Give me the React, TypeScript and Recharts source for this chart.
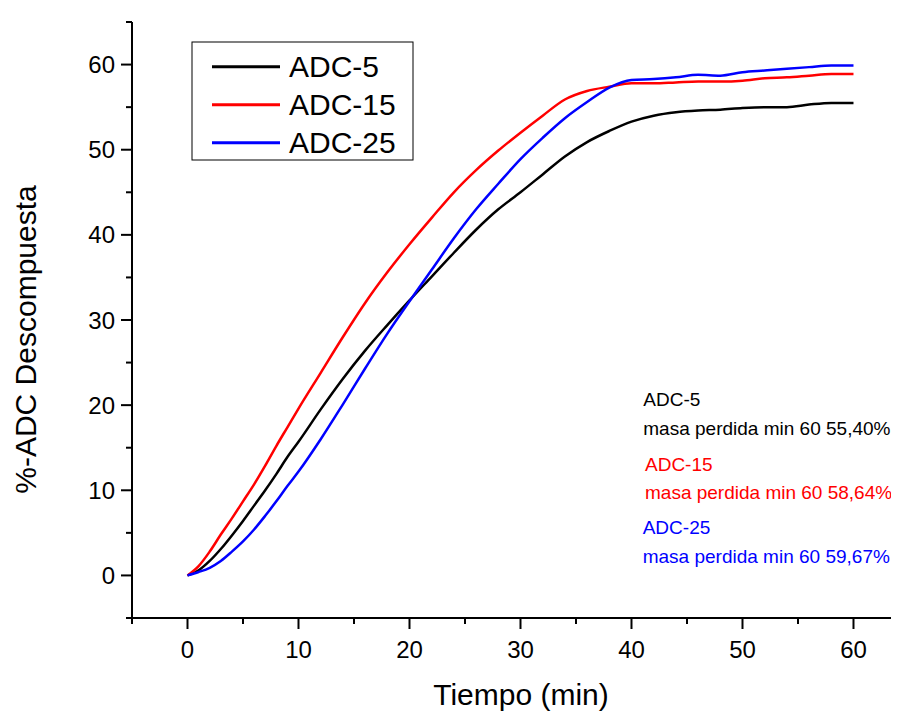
import React from 'react';
import { LineChart, Line, XAxis, YAxis } from 'recharts';

const times = [0, 1, 2, 3, 4, 5, 6, 7, 8, 9, 10, 12, 14, 16, 18, 20, 22, 24, 26, 28, 30, 32, 34, 36, 38, 40, 42, 44, 46, 48, 50, 52, 54, 56, 58, 60];
const adc5 = [0, 0.6, 1.7, 3.1, 4.7, 6.4, 8.2, 10.0, 11.9, 13.9, 15.7, 19.5, 23.1, 26.4, 29.4, 32.3, 35.1, 37.9, 40.6, 43.0, 45.0, 47.1, 49.2, 50.9, 52.2, 53.3, 54.0, 54.4, 54.6, 54.7, 54.9, 55.0, 55.0, 55.3, 55.5, 55.5];
const adc15 = [0, 1.1, 2.8, 4.8, 6.7, 8.7, 10.7, 12.9, 15.2, 17.4, 19.6, 23.8, 28.0, 32.0, 35.6, 38.9, 42.0, 45.0, 47.6, 49.9, 52.0, 54.0, 55.9, 56.9, 57.4, 57.8, 57.8, 57.9, 58.0, 58.0, 58.1, 58.4, 58.5, 58.7, 58.9, 58.9];
const adc25 = [0, 0.4, 0.9, 1.7, 2.8, 4.0, 5.4, 7.0, 8.7, 10.5, 12.2, 16.0, 20.1, 24.3, 28.4, 32.2, 35.9, 39.6, 43.0, 46.0, 48.9, 51.4, 53.7, 55.6, 57.3, 58.2, 58.3, 58.5, 58.8, 58.7, 59.1, 59.3, 59.5, 59.7, 59.9, 59.9];

const xTicks = [-5, 0, 5, 10, 15, 20, 25, 30, 35, 40, 45, 50, 55, 60];
const yTicks = [-5, 0, 5, 10, 15, 20, 25, 30, 35, 40, 45, 50, 55, 60, 65];

const seriesNames = ['ADC-5', 'ADC-15', 'ADC-25'];
const seriesColors = ['#000000', '#FF0000', '#0000FF'];
const notes = [
  'masa perdida min 60 55,40%',
  'masa perdida min 60 58,64%',
  'masa perdida min 60 59,67%',
];

const rows = times.map((t, i) => ({ t, adc5: adc5[i], adc15: adc15[i], adc25: adc25[i] }));

const FONT = 'Liberation Sans, Arial, sans-serif';

const BottomTick = (p: any) => {
  const v = p.payload.value;
  const major = v % 10 === 0;
  return (
    <g>
      <line x1={p.x} x2={p.x} y1={p.y} y2={p.y + (major ? 11 : 6)} stroke="#000" strokeWidth={2} />
      {major && (
        <text x={p.x} y={p.y + 40} textAnchor="middle" fontSize={24} fill="#000" fontFamily={FONT}>
          {v}
        </text>
      )}
    </g>
  );
};

const TopTick = (p: any) => {
  const v = p.payload.value;
  const major = v % 10 === 0;
  return <line x1={p.x} x2={p.x} y1={p.y} y2={p.y - (major ? 11 : 6)} stroke="#000" strokeWidth={2} />;
};

const LeftTick = (p: any) => {
  const v = p.payload.value;
  const major = v % 10 === 0;
  return (
    <g>
      <line x1={p.x} x2={p.x - (major ? 11 : 6)} y1={p.y} y2={p.y} stroke="#000" strokeWidth={2} />
      {major && (
        <text x={p.x - 17} y={p.y + 8.5} textAnchor="end" fontSize={24} fill="#000" fontFamily={FONT}>
          {v}
        </text>
      )}
    </g>
  );
};

export default function App() {
  const W = 891;
  const H = 703;
  return (
    <div style={{ position: 'relative', width: W, height: H }}>
      <LineChart width={W} height={H} data={rows} margin={{ top: 14, right: 0, bottom: 53, left: 64 }}>
        <XAxis
          xAxisId="b"
          dataKey="t"
          type="number"
          domain={[-5, 64.1]}
          ticks={xTicks}
          interval={0}
          orientation="bottom"
          height={40}
          tickSize={0}
          tickMargin={0}
          tickLine={false}
          axisLine={{ stroke: '#000', strokeWidth: 2 }}
          tick={<BottomTick />}
          allowDataOverflow
        />
        <XAxis
          xAxisId="t"
          dataKey="t"
          type="number"
          domain={[-5, 64.1]}
          ticks={xTicks}
          interval={0}
          orientation="top"
          height={0}
          tickSize={0}
          tickMargin={0}
          tickLine={false}
          axisLine={{ stroke: '#000', strokeWidth: 2 }}
          tick={<TopTick />}
          allowDataOverflow
        />
        <YAxis
          yAxisId="l"
          type="number"
          domain={[-5, 65]}
          ticks={yTicks}
          interval={0}
          width={60}
          tickSize={0}
          tickMargin={0}
          tickLine={false}
          axisLine={{ stroke: '#000', strokeWidth: 2 }}
          tick={<LeftTick />}
          allowDataOverflow
        />
        <Line xAxisId="b" yAxisId="l" type="monotone" dataKey="adc5" name={seriesNames[0]} stroke={seriesColors[0]} strokeWidth={2.5} dot={false} isAnimationActive={false} />
        <Line xAxisId="b" yAxisId="l" type="monotone" dataKey="adc15" name={seriesNames[1]} stroke={seriesColors[1]} strokeWidth={2.5} dot={false} isAnimationActive={false} />
        <Line xAxisId="b" yAxisId="l" type="monotone" dataKey="adc25" name={seriesNames[2]} stroke={seriesColors[2]} strokeWidth={2.5} dot={false} isAnimationActive={false} />
      </LineChart>
      <svg width={W} height={H} style={{ position: 'absolute', left: 0, top: 0, pointerEvents: 'none' }}>
        <rect x={184} y={34} width={221} height={118} fill="#fff" stroke="#000" strokeWidth={1} />
        {seriesNames.map((n, i) => (
          <g key={n}>
            <line x1={204} x2={272} y1={58.7 + i * 38} y2={58.7 + i * 38} stroke={seriesColors[i]} strokeWidth={3} />
            <text x={281} y={68.7 + i * 38} fontSize={30} fill="#000" fontFamily={FONT}>
              {n}
            </text>
          </g>
        ))}
        {seriesNames.map((n, i) => {
          const xs = [635.3, 637, 634.7];
          const y1s = [398, 462.7, 526];
          const y2s = [427, 491, 555.3];
          return (
            <g key={'note' + n} fill={seriesColors[i]} fontFamily={FONT} fontSize={19}>
              <text x={xs[i]} y={y1s[i]}>{n}</text>
              <text x={xs[i]} y={y2s[i]}>{notes[i]}</text>
            </g>
          );
        })}
        <text x={513} y={697} textAnchor="middle" fontSize={30} fill="#000" fontFamily={FONT}>
          Tiempo (min)
        </text>
        <text
          x={27.5}
          y={331.5}
          transform="rotate(-90 27.5 331.5)"
          textAnchor="middle"
          fontSize={30}
          fill="#000"
          fontFamily={FONT}
        >
          %-ADC Descompuesta
        </text>
      </svg>
    </div>
  );
}
